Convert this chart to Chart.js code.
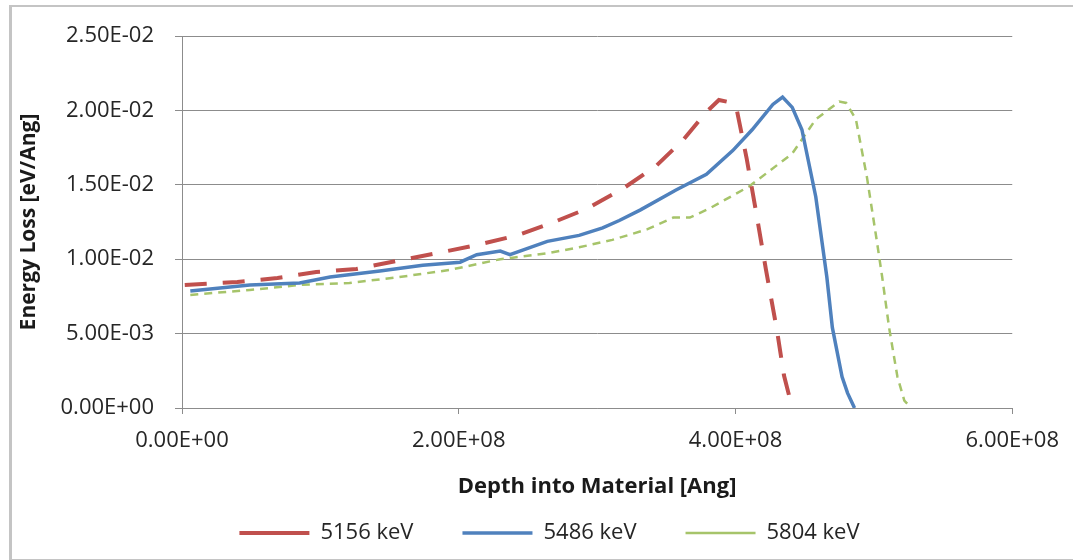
<!DOCTYPE html>
<html>
<head>
<meta charset="utf-8">
<script src="https://cdn.jsdelivr.net/npm/chart.js@4/dist/chart.umd.min.js"></script>
<style>
  html, body { margin: 0; padding: 0; background: #fff; }
  #wrap { position: relative; width: 1073px; height: 560px; overflow: hidden; }
  #frame { position: absolute; left: 9px; top: 5px; width: 1080px; height: 552px;
           border-left: 3px solid #c4c4c4; border-top: 2px solid #c4c4c4; border-bottom: 2px solid #c4c4c4; }
  canvas { position: absolute; left: 0; top: 0; }
</style>
</head>
<body>
<div id="wrap">
  <div id="frame"></div>
  <canvas id="chart" width="1073" height="560"></canvas>
</div>
<script>
// 축 눈금
const xTicks = [0, 2e8, 4e8, 6e8];
const yTicks = [0, 5e-3, 1e-2, 1.5e-2, 2e-2, 2.5e-2];

// 5156 keV
const depth5156 = [0.02e8, 0.40e8, 0.69e8, 0.97e8, 1.26e8, 1.55e8, 1.84e8, 2.13e8, 2.42e8, 2.67e8,
                   2.92e8, 3.18e8, 3.43e8, 3.62e8, 3.79e8, 3.88e8, 3.98e8, 4.01e8, 4.08e8, 4.15e8,
                   4.22e8, 4.30e8, 4.35e8, 4.41e8];
const loss5156 = [8.27e-3, 8.47e-3, 8.74e-3, 9.14e-3, 9.34e-3, 9.88e-3, 1.04e-2, 1.095e-2, 1.16e-2, 1.243e-2,
                  1.337e-2, 1.47e-2, 1.63e-2, 1.80e-2, 1.99e-2, 2.07e-2, 2.05e-2, 2.0e-2, 1.68e-2, 1.31e-2,
                  9.3e-3, 5.2e-3, 2.2e-3, 0];

// 5486 keV
const depth5486 = [0.06e8, 0.49e8, 0.85e8, 1.07e8, 1.43e8, 1.74e8, 2.01e8, 2.13e8, 2.30e8, 2.37e8,
                   2.64e8, 2.87e8, 3.04e8, 3.16e8, 3.31e8, 3.57e8, 3.79e8, 3.98e8, 4.12e8, 4.27e8,
                   4.34e8, 4.41e8, 4.48e8, 4.58e8, 4.66e8, 4.70e8, 4.77e8, 4.81e8, 4.86e8];
const loss5486 = [7.86e-3, 8.27e-3, 8.4e-3, 8.8e-3, 9.2e-3, 9.6e-3, 9.8e-3, 1.03e-2, 1.055e-2, 1.03e-2,
                  1.12e-2, 1.16e-2, 1.21e-2, 1.26e-2, 1.33e-2, 1.465e-2, 1.57e-2, 1.73e-2, 1.87e-2, 2.04e-2,
                  2.09e-2, 2.02e-2, 1.87e-2, 1.42e-2, 8.8e-3, 5.4e-3, 2.1e-3, 1.0e-3, 0];

// 5804 keV
const depth5804 = [0.06e8, 0.49e8, 0.85e8, 1.21e8, 1.57e8, 1.93e8, 2.30e8, 2.39e8, 2.64e8, 2.87e8,
                   3.11e8, 3.36e8, 3.55e8, 3.67e8, 3.81e8, 4.10e8, 4.41e8, 4.58e8, 4.75e8, 4.80e8,
                   4.87e8, 4.95e8, 5.02e8, 5.06e8, 5.11e8, 5.17e8, 5.22e8, 5.27e8];
const loss5804 = [7.6e-3, 7.93e-3, 8.27e-3, 8.4e-3, 8.8e-3, 9.27e-3, 1.0e-2, 1.01e-2, 1.04e-2, 1.08e-2,
                  1.13e-2, 1.20e-2, 1.28e-2, 1.28e-2, 1.34e-2, 1.49e-2, 1.71e-2, 1.94e-2, 2.06e-2, 2.05e-2,
                  1.94e-2, 1.55e-2, 1.13e-2, 8.8e-3, 5.4e-3, 2.1e-3, 5e-4, 0];

const seriesLabels = ['5156 keV', '5486 keV', '5804 keV'];

// 엑셀 스타일 지수 표기 (2.50E-02)
function excelExp(v) {
    if (v === 0) return '0.00E+00';
    const [m, e] = v.toExponential(2).toUpperCase().split('E');
    const n = parseInt(e, 10);
    return m + 'E' + (n < 0 ? '-' : '+') + String(Math.abs(n)).padStart(2, '0');
}

function toPoints(xs, ys) {
    return xs.map((x, i) => ({ x: x, y: ys[i] }));
}

// 범례를 오른쪽으로 조금 이동
const legendShift = {
    id: 'legendShift',
    afterLayout(chart) {
        chart.legend.left += 38;
        chart.legend.right += 38;
    }
};

const FONT = '"Open Sans", "Noto Sans", sans-serif';
Chart.defaults.font.family = FONT;
Chart.defaults.color = '#262626';

new Chart(document.getElementById('chart').getContext('2d'), {
    type: 'line',
    data: {
        datasets: [{
            label: seriesLabels[0],
            data: toPoints(depth5156, loss5156),
            borderColor: '#c0504d',
            borderWidth: 4,
            borderDash: [22, 16]
        }, {
            label: seriesLabels[1],
            data: toPoints(depth5486, loss5486),
            borderColor: '#4f81bd',
            borderWidth: 3.5
        }, {
            label: seriesLabels[2],
            data: toPoints(depth5804, loss5804),
            borderColor: '#a6c46a',
            borderWidth: 2.5,
            borderDash: [8, 6]
        }]
    },
    options: {
        responsive: false,
        animation: false,
        layout: { padding: { left: 10, top: 36, right: 60, bottom: 6 } },
        elements: {
            point: { radius: 0 },
            line: { tension: 0, fill: false }
        },
        scales: {
            x: {
                type: 'linear',
                min: 0,
                max: 6e8,
                afterBuildTicks: (s) => { s.ticks = xTicks.map(v => ({ value: v })); },
                afterFit: (s) => { s.height = 65; },
                border: { color: '#8c8c8c', width: 1 },
                grid: { drawOnChartArea: false, drawTicks: true, tickLength: 6, color: '#8c8c8c' },
                ticks: {
                    callback: (v) => excelExp(v),
                    font: { size: 22 },
                    padding: 14,
                    maxRotation: 0
                },
                title: {
                    display: true,
                    text: 'Depth into Material [Ang]',
                    font: { size: 22, weight: 'bold' },
                    color: '#1a1a1a',
                    padding: { top: 0, bottom: -27 }
                }
            },
            y: {
                min: 0,
                max: 0.025,
                afterBuildTicks: (s) => { s.ticks = yTicks.map(v => ({ value: v })); },
                afterFit: (s) => { s.width = 172; },
                border: { color: '#8c8c8c', width: 1 },
                grid: { color: '#8c8c8c', lineWidth: 1, tickLength: 7 },
                ticks: {
                    callback: (v) => excelExp(v),
                    font: { size: 22 },
                    padding: 21
                },
                title: {
                    display: true,
                    text: 'Energy Loss [eV/Ang]',
                    font: { size: 21, weight: 'bold' },
                    color: '#1a1a1a',
                    padding: { top: 6, bottom: 0 }
                }
            }
        },
        plugins: {
            legend: {
                position: 'bottom',
                labels: {
                    usePointStyle: true,
                    pointStyle: 'line',
                    pointStyleWidth: 70,
                    boxHeight: 22,
                    font: { size: 22 },
                    color: '#262626',
                    padding: 49
                }
            },
            tooltip: { enabled: false }
        }
    },
    plugins: [legendShift]
});
</script>
</body>
</html>
